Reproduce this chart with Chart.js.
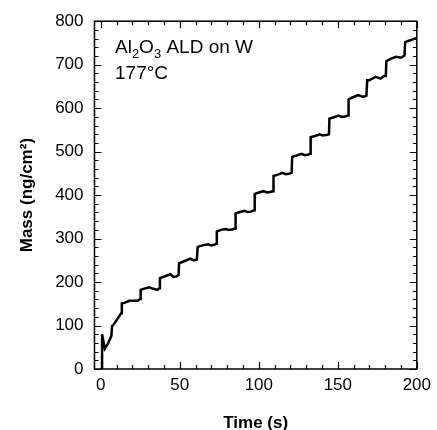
<!DOCTYPE html>
<html>
<head>
<meta charset="utf-8">
<script src="https://cdn.jsdelivr.net/npm/chart.js@4.4.1/dist/chart.umd.min.js"></script>
<style>
  html, body { margin: 0; padding: 0; background: #fff; }
  #wrap { position: relative; width: 437px; height: 430px; }
</style>
</head>
<body>
<div id="wrap"><canvas id="c" width="437" height="430"></canvas></div>
<script>
// ---- data ----
const timeS = [
  0.8, 0.8, 2.5, 4.6, 6.7, 7.1, 8.3, 12.9,
  13.3, 15, 18, 21, 23.3, 24.9,
  25.2, 27.5, 30.6, 32.7, 35.8, 37.0,
  37.4, 41, 44, 46, 48, 49.2,
  49.5, 53.5, 56.7, 58.8, 60.8,
  61.3, 65, 68, 70, 72, 73.1,
  73.4, 76, 79, 81, 83, 85,
  85.3, 88, 91, 93, 95, 97.1,
  97.4, 100, 103, 105, 107, 109,
  109.3, 112, 115, 117, 119, 120.8,
  121.1, 124, 127, 129, 131, 132.5,
  132.8, 135.5, 138.5, 140.5, 142.5, 144.4,
  144.7, 147.5, 150.5, 152.5, 154.5, 156.5,
  156.8, 158.8, 162.9, 166, 168.1,
  168.6, 169.8, 174, 177.1, 179.2, 180.4,
  180.7, 183.7, 186.9, 190, 192.2,
  192.6, 195, 197.5, 199.4
];
const massNg = [
  0, 80, 47, 59, 76, 99, 103, 128,
  151, 152, 157, 157, 157, 161,
  182, 185, 188, 185, 182, 186,
  209, 214, 218, 212, 213, 216,
  243, 249, 254, 250, 252,
  281, 285, 287, 284, 286, 288,
  316, 320, 322, 320, 321, 323,
  358, 361, 364, 361, 362, 365,
  403, 406, 409, 406, 407, 409,
  444, 447, 451, 448, 449, 451,
  488, 491, 495, 492, 493, 495,
  533, 536, 540, 537, 538, 540,
  576, 579, 583, 580, 581, 583,
  620, 624, 630, 626, 629,
  664, 664, 672, 668, 674, 674,
  708, 714, 718, 716, 721,
  752, 755, 758, 762
];
const xTickValues = [0, 50, 100, 150, 200];
const yTickValues = [0, 100, 200, 300, 400, 500, 600, 700, 800];
const xMinorStep = 10;
const yMinorStep = 20;
const xTitle = 'Time (s)';
const yTitle = 'Mass (ng/cm\u00B2)';
const labelLine2 = '177\u00B0C';

const FONT = "Arial, 'Liberation Sans', Helvetica, sans-serif";

const points = timeS.map((t, i) => ({ x: t, y: massNg[i] }));

// frame + inward ticks drawn from the library's scales
const framePlugin = {
  id: 'frame',
  afterDraw(chart) {
    const { ctx, chartArea: a, scales: { x, y } } = chart;
    ctx.save();
    ctx.strokeStyle = '#000';
    ctx.lineWidth = 1.5;
    ctx.strokeRect(a.left, a.top, a.right - a.left, a.bottom - a.top);
    ctx.lineWidth = 1.2;
    ctx.beginPath();
    for (let v = 0; v <= 200; v += xMinorStep) {
      const px = Math.round(x.getPixelForValue(v)) + 0.5;
      const len = xTickValues.includes(v) ? 7 : 4;
      ctx.moveTo(px, a.bottom); ctx.lineTo(px, a.bottom - len);
      ctx.moveTo(px, a.top); ctx.lineTo(px, a.top + len);
    }
    for (let v = 0; v <= 800; v += yMinorStep) {
      const py = Math.round(y.getPixelForValue(v)) + 0.5;
      const len = yTickValues.includes(v) ? 7 : 4;
      ctx.moveTo(a.left, py); ctx.lineTo(a.left + len, py);
      ctx.moveTo(a.right, py); ctx.lineTo(a.right - len, py);
    }
    ctx.stroke();

    // annotation text
    ctx.fillStyle = '#000';
    ctx.textBaseline = 'alphabetic';
    ctx.textAlign = 'left';
    let cx = 115;
    const by = 53;
    const parts = [['Al', 0], ['2', 1], ['O', 0], ['3', 1], [' ALD on W', 0]];
    for (const [txt, sub] of parts) {
      ctx.font = sub ? '13px ' + FONT : '19px ' + FONT;
      ctx.fillText(txt, cx, sub ? by + 5 : by);
      cx += ctx.measureText(txt).width;
    }
    ctx.font = '19px ' + FONT;
    ctx.fillText(labelLine2, 115, 79);
    ctx.restore();
  }
};

new Chart(document.getElementById('c'), {
  type: 'line',
  data: {
    datasets: [{
      data: points,
      borderColor: '#000',
      borderWidth: 2.5,
      pointRadius: 0,
      tension: 0,
      fill: false
    }]
  },
  options: {
    responsive: false,
    animation: false,
    parsing: true,
    layout: { padding: { top: 21, right: 16, left: 0, bottom: 0 } },
    plugins: { legend: { display: false }, tooltip: { enabled: false } },
    scales: {
      x: {
        type: 'linear',
        min: -4,
        max: 200,
        afterBuildTicks: (s) => { s.ticks = xTickValues.map(v => ({ value: v })); },
        afterFit: (s) => { s.height = 61; },
        grid: { display: false, drawTicks: false },
        border: { display: false },
        ticks: { color: '#000', font: { family: FONT, size: 17 }, padding: 6, maxRotation: 0 },
        title: { display: true, text: xTitle, color: '#000', font: { family: FONT, size: 17, weight: 'bold' }, padding: { top: 0, bottom: -4 } }
      },
      y: {
        type: 'linear',
        min: 0,
        max: 800,
        afterBuildTicks: (s) => { s.ticks = yTickValues.map(v => ({ value: v })); },
        afterFit: (s) => { s.width = 94.5; },
        grid: { display: false, drawTicks: false },
        border: { display: false },
        ticks: { color: '#000', font: { family: FONT, size: 17 }, padding: 11 },
        title: { display: true, text: yTitle, color: '#000', font: { family: FONT, size: 17, weight: 'bold' }, padding: { top: 17, bottom: 0 } }
      }
    }
  },
  plugins: [framePlugin]
});
</script>
</body>
</html>
